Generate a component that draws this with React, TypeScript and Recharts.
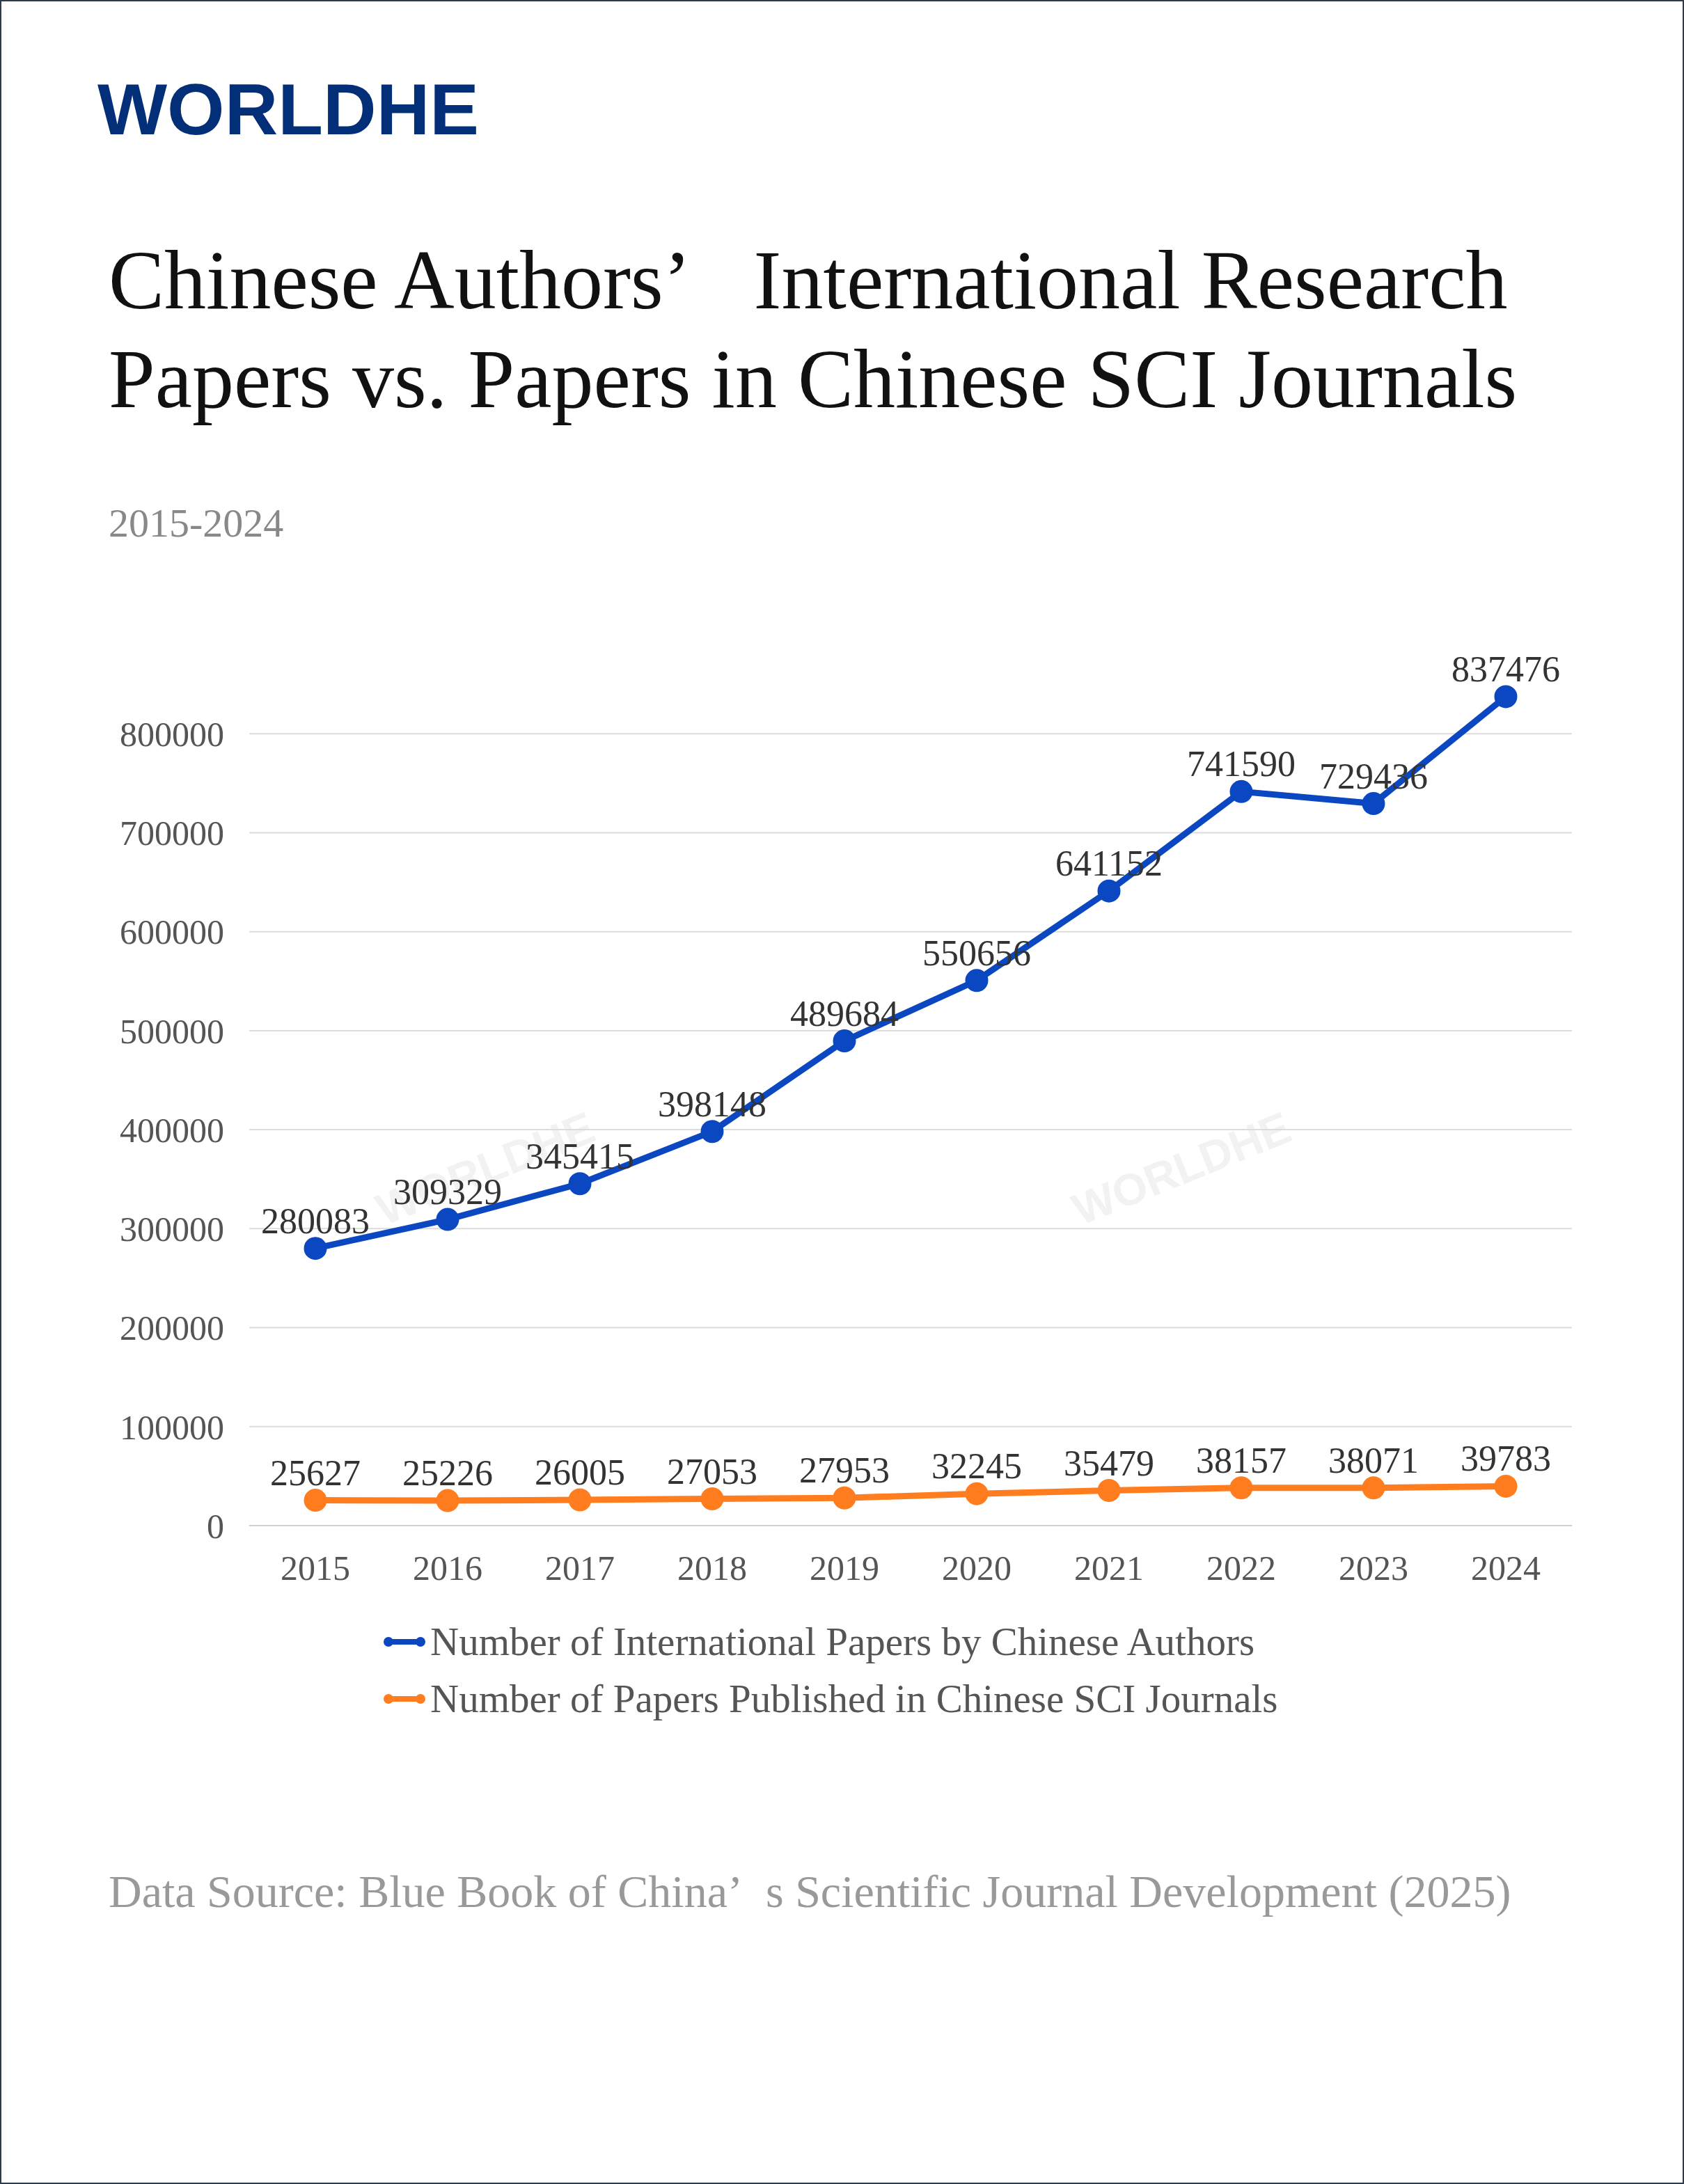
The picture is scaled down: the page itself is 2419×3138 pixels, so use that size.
import { LineChart, Line, XAxis, YAxis, CartesianGrid, LabelList } from 'recharts'

const years = ['2015', '2016', '2017', '2018', '2019', '2020', '2021', '2022', '2023', '2024']
const intlPapers = [280083, 309329, 345415, 398148, 489684, 550656, 641152, 741590, 729436, 837476]
const sciPapers = [25627, 25226, 26005, 27053, 27953, 32245, 35479, 38157, 38071, 39783]
const yTicks = [0, 100000, 200000, 300000, 400000, 500000, 600000, 700000, 800000]

const SERIF = '"Liberation Serif", "DejaVu Serif", serif'
const BLUE = '#0b47c1'
const ORANGE = '#ff7d1f'

const data = years.map((y, i) => ({ year: y, intl: intlPapers[i], sci: sciPapers[i] }))

function LegendRow({ color, text, top }: { color: string; text: string; top: number }) {
  return (
    <div style={{ position: 'absolute', left: 548, top, display: 'flex', alignItems: 'center' }}>
      <svg width={62} height={20}>
        <line x1={8} y1={10} x2={54} y2={10} stroke={color} strokeWidth={8} />
        <circle cx={8} cy={10} r={7} fill={color} />
        <circle cx={54} cy={10} r={7} fill={color} />
      </svg>
      <span style={{ fontSize: 57, color: '#555', marginLeft: 6 }}>{text}</span>
    </div>
  )
}

export default function App() {
  return (
    <div
      style={{
        position: 'absolute', left: 0, top: 0, width: 2419, height: 3138, boxSizing: 'border-box',
        border: '2px solid #2d3b4b', background: '#fff', fontFamily: SERIF, overflow: 'hidden',
      }}
    >
      <div style={{ position: 'absolute', left: 138, top: 96, fontFamily: '"Liberation Sans", Arial, sans-serif', fontWeight: 900, fontSize: 104, color: '#032f78', letterSpacing: 0, transform: 'scaleX(1.02)', transformOrigin: 'left' }}>
        WORLDHE
      </div>
      <div style={{ position: 'absolute', left: 154, top: 330, fontSize: 120, lineHeight: '142px', color: '#111' }}>
        Chinese Authors’&nbsp;&nbsp;&nbsp;International Research<br />Papers vs. Papers in Chinese SCI Journals
      </div>
      <div style={{ position: 'absolute', left: 154, top: 716, fontSize: 58, color: '#888' }}>2015-2024</div>

      <div style={{ position: 'absolute', left: 1530, top: 1640, fontSize: 64, fontWeight: 700, fontFamily: '"Liberation Sans", sans-serif', color: '#f2f2f2', transform: 'rotate(-22deg)' }}>WORLDHE</div>
      <div style={{ position: 'absolute', left: 530, top: 1640, fontSize: 64, fontWeight: 700, fontFamily: '"Liberation Sans", sans-serif', color: '#f2f2f2', transform: 'rotate(-22deg)' }}>WORLDHE</div>

      <div style={{ position: 'absolute', left: 0, top: 850 }}>
        <LineChart width={2419} height={1450} data={data} margin={{ top: 60, right: 163, bottom: 30, left: 0 }}>
          <CartesianGrid vertical={false} stroke="#dcdcdc" strokeWidth={2} horizontalValues={yTicks} />
          <XAxis
            dataKey="year"
            axisLine={{ stroke: '#d0d0d0', strokeWidth: 2 }}
            tickLine={false}
            height={80}
            padding={{ left: 95, right: 95 }}
            tick={{ fill: '#555', fontSize: 50, fontFamily: SERIF }}
            tickMargin={36}
          />
          <YAxis
            domain={[0, 900000]}
            ticks={yTicks}
            axisLine={false}
            tickLine={false}
            width={356}
            tickMargin={30}
            tick={{ fill: '#555', fontSize: 50, fontFamily: SERIF }}
          />
          <Line dataKey="intl" stroke={BLUE} strokeWidth={9} dot={{ r: 12, fill: BLUE, stroke: BLUE }} isAnimationActive={false}>
            <LabelList dataKey="intl" position="top" offset={22} fill="#333" fontSize={52} fontFamily={SERIF} />
          </Line>
          <Line dataKey="sci" stroke={ORANGE} strokeWidth={9} dot={{ r: 12, fill: ORANGE, stroke: ORANGE }} isAnimationActive={false}>
            <LabelList dataKey="sci" position="top" offset={22} fill="#333" fontSize={52} fontFamily={SERIF} />
          </Line>
        </LineChart>
      </div>

      <LegendRow color={BLUE} text="Number of International Papers by Chinese Authors" top={2324} />
      <LegendRow color={ORANGE} text="Number of Papers Published in Chinese SCI Journals" top={2406} />

      <div style={{ position: 'absolute', left: 154, top: 2678, fontSize: 66, color: '#999' }}>
        Data Source: Blue Book of China’&nbsp;&nbsp;s Scientific Journal Development (2025)
      </div>
    </div>
  )
}
